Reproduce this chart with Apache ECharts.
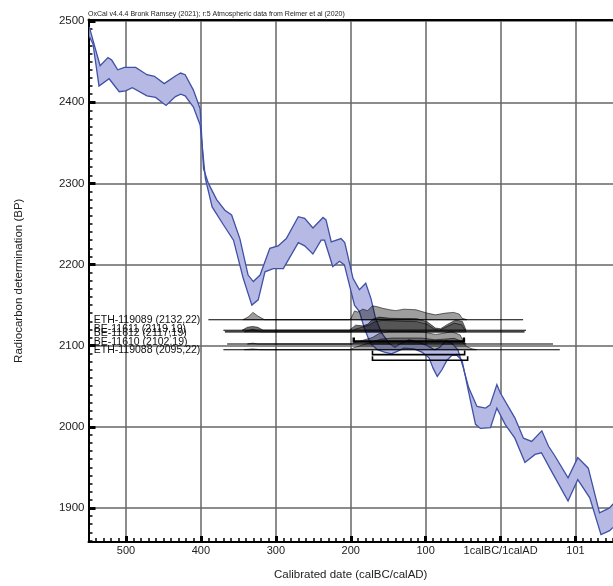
<!DOCTYPE html>
<html><head><meta charset="utf-8">
<script src="https://cdn.jsdelivr.net/npm/echarts@6/dist/echarts.min.js"></script>
<style>html,body{margin:0;padding:0;background:#fff}#c{width:613px;height:586px}</style>
</head><body><div id="c"></div>
<script>
// ---------- axes ----------
const X_TICKS = [-500, -400, -300, -200, -100, 0, 100];
const X_TICK_LABELS = ['500', '400', '300', '200', '100', '1calBC/1calAD', '101'];
const Y_TICKS = [1900, 2000, 2100, 2200, 2300, 2400, 2500];
const X_MIN = -550, X_MAX = 150;
const Y_MIN = 1858, Y_MAX = 2502;
const MINOR_STEP = 10;

// ---------- calibration curve (IntCal20, 1-sigma band edges) [year, BP] ----------
const curveUpper = [[-549,2493],[-534.5,2445],[-524,2455],[-519,2452],[-511,2440],[-502,2443],[-487,2443],[-472,2434],[-462,2432],[-449,2423],[-433,2433],[-427,2436],[-421,2434],[-410,2415],[-401,2392],[-396.5,2318],[-390,2300],[-379,2280],[-368,2267],[-359,2261],[-348,2232],[-337,2187],[-330,2179],[-321,2187],[-308,2220],[-297,2223],[-286,2232],[-270,2259],[-261.5,2257],[-250.5,2245],[-237,2258],[-233,2255],[-226,2228],[-213,2232],[-208,2227],[-197,2183],[-188.5,2169],[-180,2177],[-173,2158],[-167,2134],[-159,2116],[-149,2103],[-141,2098],[-133,2103],[-122,2107],[-109,2104],[-98,2100],[-88,2095],[-81,2098],[-73,2106],[-65,2103],[-57,2095],[-50.5,2075],[-42.5,2048],[-31.5,2025],[-20,2023],[-14,2027],[-5,2052],[-0.5,2042],[19,2011],[30.5,1986],[41.5,1982],[55,1995],[64,1976],[72.5,1964],[90,1937],[103,1962],[117,1949],[132,1894],[145.5,1900],[150,1905]];
const curveLower = [[-549,2481],[-544,2472],[-536,2420],[-522.5,2429],[-509,2413],[-500.5,2414],[-491.5,2418],[-472,2408],[-460.5,2406],[-446.5,2396],[-434,2407],[-427,2410],[-421,2408],[-410,2394],[-401,2372],[-394,2306],[-385,2271],[-370,2249],[-356.5,2230],[-343.5,2183],[-332,2150],[-323.5,2156.5],[-314.5,2191],[-303.5,2195],[-290,2195],[-270,2227],[-261.5,2223],[-250.5,2213],[-239.5,2230],[-235,2230],[-224,2197.5],[-215,2204],[-208.5,2199.5],[-195,2150],[-188.5,2142],[-182,2122],[-174,2103],[-164.5,2095],[-155,2092],[-146,2090],[-138,2093],[-129,2097],[-115.5,2096],[-105,2092],[-95.5,2085],[-90,2072],[-84.5,2062],[-78.5,2070],[-71.5,2082],[-65,2088],[-58.5,2088],[-51.5,2082],[-42.5,2042],[-33.5,2003],[-27,1998],[-13.5,1999],[-5,2023],[6,2003],[19,1986],[32.5,1956],[46,1966],[54.5,1968],[68,1945],[90,1908.5],[103,1935],[119,1912.5],[134,1867],[145.5,1872],[150,1876]];

// ---------- samples ----------
const sampleNames = ['ETH-119089', 'BE-11611', 'BE-11612', 'BE-11610', 'ETH-119088'];
const sampleBP = [2132, 2119, 2117, 2102, 2095];
const sampleErr = [22, 19, 19, 19, 22];
const lineFrom = [-390, -370, -368, -365, -370];
const lineTo = [30, 34, 32, 70, 79];

// calibrated probability (relative) [year, p]
const distETH119089 = [[-344,0],[-337,0.18],[-330.5,0.5],[-324,0.25],[-315,0],[-202,0],[-199.5,0.1],[-195,0.6],[-190.5,0.52],[-184,0.72],[-177.5,0.62],[-171,0.95],[-164,0.88],[-157.5,0.78],[-148,0.68],[-140,0.62],[-129,0.72],[-113,0.68],[-98,0.45],[-87,0.33],[-73.5,0.45],[-62.5,0.5],[-55,0.38],[-51.5,0.1],[-45,0]];
const distBE11611 = [[-345,0],[-338,0.2],[-331,0.26],[-324,0.2],[-317,0],[-202,0],[-199,0.12],[-193.5,0.35],[-184,0.3],[-177,0.42],[-171,0.75],[-162,0.9],[-148,0.82],[-133,0.8],[-119,0.8],[-111,0.78],[-98,0.58],[-87,0.15],[-80,0.1],[-71,0.4],[-60,0.7],[-51,0.6],[-46,0]];
const distBE11612 = [[-342,0],[-331,0.18],[-320,0],[-200,0],[-194,0.18],[-186,0.3],[-176,0.45],[-168,0.68],[-158,0.78],[-145,0.76],[-130,0.72],[-112,0.7],[-98,0.52],[-89,0.2],[-82,0.1],[-73,0.32],[-62,0.6],[-52,0.48],[-46,0]];
const distBE11610 = [[-338,0],[-331,0.06],[-324,0],[-198,0],[-195,0.12],[-186,0.22],[-171,0.45],[-162,0.72],[-149,0.86],[-127,0.86],[-105,0.84],[-87,0.66],[-78,0.72],[-65,0.85],[-54,0.62],[-49,0.08],[-46,0]];
const distETH119088 = [[-342,0],[-331,0.05],[-320,0],[-201,0],[-195,0.15],[-185,0.32],[-172,0.52],[-160,0.72],[-145,0.8],[-125,0.8],[-105,0.8],[-88,0.68],[-76,0.72],[-62,0.78],[-52,0.58],[-45,0.2],[-38,0.06],[-32,0]];
const sampleDists = [distETH119089, distBE11611, distBE11612, distBE11610, distETH119088];

// range bars [BP, from, to]
const rangeBarBP = [2105, 2089, 2082];
const rangeBarFrom = [-196, -171, -171];
const rangeBarTo = [-49, -48, -44];

// ---------- styling ----------
const DIST_PEAK_BP = 18;
const distFill = ['rgba(0,0,0,0.38)', 'rgba(0,0,0,0.55)', 'rgba(0,0,0,0.25)', 'rgba(0,0,0,0.38)', 'rgba(0,0,0,0.34)'];
const labelNudgePx = [0, -1.5, 1.5, -1.5, 0];
const FONT = "'Liberation Sans', Arial, sans-serif";

const minorVals = (a, b, majors) => { const r = []; for (let v = a; v <= b; v += MINOR_STEP) if (!majors.includes(v)) r.push(v); return r; };
const xMinor = minorVals(X_MIN, X_MAX, X_TICKS);
const yMinor = minorVals(1860, 2500, Y_TICKS);

const chart = echarts.init(document.getElementById('c'), null, {renderer: 'canvas'});

const series = [];
series.push({
  type: 'custom', coordinateSystem: 'cartesian2d', clip: true, z: 2,
  data: [[curveUpper[0][0], curveUpper[0][1]]],
  renderItem: (params, api) => {
    const up = curveUpper.map(p => api.coord(p));
    const lo = curveLower.map(p => api.coord(p));
    return {type: 'group', children: [
      {type: 'polygon', shape: {points: up.concat(lo.slice().reverse())}, style: {fill: '#b5b9e4', stroke: null}},
      {type: 'polyline', shape: {points: up}, style: {stroke: '#3f51a6', lineWidth: 1.3, fill: null}},
      {type: 'polyline', shape: {points: lo}, style: {stroke: '#3f51a6', lineWidth: 1.3, fill: null}}
    ]};
  }
});
sampleDists.forEach((d, i) => {
  const bp = sampleBP[i];
  series.push({
    type: 'custom', coordinateSystem: 'cartesian2d', clip: true, z: 3,
    data: [[d[0][0], bp]],
    renderItem: (params, api) => {
      const pts = d.map(p => api.coord([p[0], bp + p[1] * DIST_PEAK_BP]));
      return {type: 'polygon', shape: {points: pts}, style: {fill: distFill[i], stroke: 'rgba(0,0,0,0.7)', lineWidth: 0.8}};
    }
  });
});
series.push({
  type: 'custom', coordinateSystem: 'cartesian2d', z: 4,
  data: sampleBP.map((bp, i) => [lineFrom[i], bp, lineTo[i]]),
  renderItem: (params, api) => {
    const i = params.dataIndex;
    const a = api.coord([api.value(0), api.value(1)]);
    const b = api.coord([api.value(2), api.value(1)]);
    const t = api.coord([X_MIN + 7, api.value(1)]);
    return {type: 'group', children: [
      {type: 'line', shape: {x1: a[0], y1: a[1], x2: b[0], y2: b[1]}, style: {stroke: '#000', lineWidth: 1.1}},
      {type: 'text', x: t[0], y: t[1] + labelNudgePx[i], style: {text: sampleNames[i] + ' (' + sampleBP[i] + ',' + sampleErr[i] + ')', fill: '#111', font: '10.5px ' + FONT, verticalAlign: 'middle', align: 'left'}}
    ]};
  }
});
series.push({
  type: 'custom', coordinateSystem: 'cartesian2d', z: 5,
  data: rangeBarBP.map((bp, i) => [rangeBarFrom[i], bp, rangeBarTo[i]]),
  renderItem: (params, api) => {
    const a = api.coord([api.value(0), api.value(1)]);
    const b = api.coord([api.value(2), api.value(1)]);
    const h = api.coord([api.value(0), api.value(1) + 5])[1];
    const w = params.dataIndex === 0 ? 2.5 : 1.6;
    return {type: 'polyline', shape: {points: [[a[0], h], a, b, [b[0], h]]}, style: {stroke: '#000', lineWidth: w, fill: null}};
  }
});

const labelStyle = {color: '#222', fontSize: 11, fontFamily: FONT};
chart.setOption({
  animation: false,
  backgroundColor: '#fff',
  title: {text: 'OxCal v4.4.4 Bronk Ramsey (2021); r:5 Atmospheric data from Reimer et al (2020)', left: 83, top: 6,
    textStyle: {fontSize: 7, fontWeight: 'normal', color: '#222', fontFamily: FONT}},
  grid: {left: 88.5, top: 19.5, right: -3, bottom: 43},
  xAxis: [
    {type: 'value', position: 'bottom', min: X_MIN, max: X_MAX,
     name: 'Calibrated date (calBC/calAD)', nameLocation: 'middle', nameGap: 27,
     nameTextStyle: {color: '#222', fontSize: 11.5, fontFamily: FONT},
     axisLine: {show: true, onZero: false, lineStyle: {color: '#000', width: 2}},
     axisTick: {show: true, inside: true, length: 6, customValues: X_TICKS, lineStyle: {color: '#000', width: 3}},
     axisLabel: {customValues: X_TICKS, margin: 3, formatter: v => X_TICK_LABELS[X_TICKS.indexOf(v)], ...labelStyle},
     splitLine: {show: true, lineStyle: {color: '#666', width: 1.5}}},
    {type: 'value', position: 'bottom', min: X_MIN, max: X_MAX,
     axisLine: {show: false, onZero: false}, axisLabel: {show: false}, splitLine: {show: false},
     axisTick: {show: true, inside: true, length: 4, customValues: xMinor, lineStyle: {color: '#000', width: 1.5}}},
    {type: 'value', position: 'top', min: X_MIN, max: X_MAX,
     axisLine: {show: true, onZero: false, lineStyle: {color: '#000', width: 2}}, axisLabel: {show: false}, axisTick: {show: false}, splitLine: {show: false}}
  ],
  yAxis: [
    {type: 'value', position: 'left', min: Y_MIN, max: Y_MAX,
     name: 'Radiocarbon determination (BP)', nameLocation: 'middle', nameGap: 64, nameRotate: 90,
     nameTextStyle: {color: '#222', fontSize: 11.5, fontFamily: FONT},
     axisLine: {show: true, onZero: false, lineStyle: {color: '#000', width: 2}},
     axisTick: {show: true, inside: true, length: 7, customValues: Y_TICKS, lineStyle: {color: '#000', width: 3}},
     axisLabel: {customValues: Y_TICKS, margin: 4, formatter: v => String(v), ...labelStyle, fontSize: 11.5},
     splitLine: {show: true, lineStyle: {color: '#666', width: 1.5}}},
    {type: 'value', position: 'left', min: Y_MIN, max: Y_MAX,
     axisLine: {show: false, onZero: false}, axisLabel: {show: false}, splitLine: {show: false},
     axisTick: {show: true, inside: true, length: 4, customValues: yMinor, lineStyle: {color: '#000', width: 1.5}}}
  ],
  series: series
});
</script></body></html>
